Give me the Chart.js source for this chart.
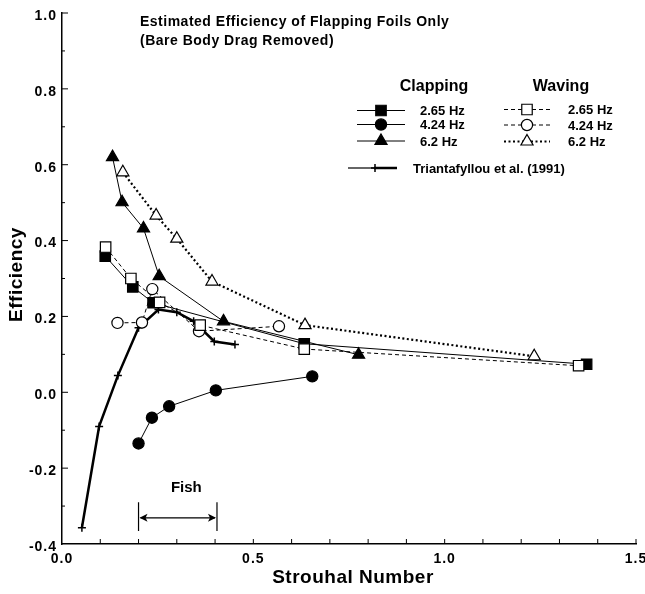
<!DOCTYPE html>
<html>
<head>
<meta charset="utf-8">
<title>Flapping foil efficiency</title>
<script src="https://cdn.jsdelivr.net/npm/chart.js@4.4.1/dist/chart.umd.min.js"></script>
<style>
    html, body { margin: 0; padding: 0; background: #fff; }
    #wrap { width: 645px; height: 594px; }
</style>
</head>
<body>
<div id="wrap"><canvas id="effChart" width="645" height="594"></canvas></div>
<script>
// Strouhal number (x) vs. efficiency (y) for each run
const clap265X = [0.113, 0.185, 0.238, 0.633, 1.371];
const clap265Y = [0.359, 0.278, 0.236, 0.128, 0.074];
const clap424X = [0.200, 0.235, 0.280, 0.402, 0.654];
const clap424Y = [-0.135, -0.067, -0.037, 0.005, 0.042];
const clap62X = [0.132, 0.157, 0.213, 0.254, 0.422, 0.775];
const clap62Y = [0.620, 0.501, 0.432, 0.306, 0.187, 0.099];

const wave265X = [0.114, 0.180, 0.255, 0.361, 0.633, 1.350];
const wave265Y = [0.383, 0.300, 0.237, 0.177, 0.114, 0.070];
const wave424X = [0.145, 0.209, 0.236, 0.358, 0.567];
const wave424Y = [0.183, 0.184, 0.272, 0.161, 0.174];
const wave62X = [0.159, 0.246, 0.300, 0.392, 0.635, 1.234];
const wave62Y = [0.580, 0.466, 0.405, 0.292, 0.177, 0.095];

const triantX = [0.052, 0.097, 0.146, 0.200, 0.252, 0.300, 0.344, 0.398, 0.452];
const triantY = [-0.357, -0.090, 0.044, 0.170, 0.218, 0.211, 0.187, 0.134, 0.126];

const xTickLabels = ['0.0', '0.5', '1.0', '1.5'];
const yTickLabels = ['-0.4', '-0.2', '0.0', '0.2', '0.4', '0.6', '0.8', '1.0'];

// fish range bar
const fishRange = [0.2, 0.405];

const FONT = '"Liberation Sans", Arial, Helvetica, sans-serif';

function pts(xs, ys) {
    return xs.map((x, i) => ({ x: x, y: ys[i] }));
}

// line + marker look for each series, shared by datasets and the legend
const looks = {
    clap265: { style: 'rect', r: 7.4, fill: true, dash: [], width: 1 },
    clap424: { style: 'circle', r: 5.6, fill: true, dash: [], width: 1 },
    clap62: { style: 'triangle', r: 7, fill: true, dash: [], width: 1 },
    wave265: { style: 'rect', r: 7.4, fill: false, dash: [4, 3], width: 1 },
    wave424: { style: 'circle', r: 5.6, fill: false, dash: [4, 3], width: 1 },
    wave62: { style: 'triangle', r: 7, fill: false, dash: [2, 2.5], width: 2.2 },
    triant: { style: 'cross', r: 4, fill: false, dash: [], width: 2.5 }
};

function makeSet(label, data, look) {
    return {
        label: label,
        data: data,
        showLine: true,
        borderColor: '#000',
        borderWidth: look.width,
        borderDash: look.dash,
        borderCapStyle: 'butt',
        pointStyle: look.style,
        pointRadius: look.r,
        pointHoverRadius: look.r,
        pointBackgroundColor: look.fill ? '#000' : '#fff',
        pointBorderColor: '#000',
        pointBorderWidth: look.style === 'cross' ? 1.5 : 1.2
    };
}

// draws a marker the same way Chart.js does for these point styles
function marker(ctx, look, x, y) {
    const r = look.r;
    ctx.save();
    ctx.setLineDash([]);
    ctx.lineWidth = look.style === 'cross' ? 1.5 : 1.2;
    ctx.strokeStyle = '#000';
    ctx.fillStyle = look.fill ? '#000' : '#fff';
    ctx.beginPath();
    if (look.style === 'rect') {
        const s = Math.SQRT1_2 * r;
        ctx.rect(x - s, y - s, 2 * s, 2 * s);
    } else if (look.style === 'circle') {
        ctx.arc(x, y, r, 0, Math.PI * 2);
    } else if (look.style === 'triangle') {
        let a = 0;
        ctx.moveTo(x + Math.sin(a) * r, y - Math.cos(a) * r);
        a += Math.PI * 2 / 3;
        ctx.lineTo(x + Math.sin(a) * r, y - Math.cos(a) * r);
        a += Math.PI * 2 / 3;
        ctx.lineTo(x + Math.sin(a) * r, y - Math.cos(a) * r);
        ctx.closePath();
    } else if (look.style === 'cross') {
        ctx.moveTo(x, y - r); ctx.lineTo(x, y + r);
        ctx.moveTo(x - r, y); ctx.lineTo(x + r, y);
        ctx.stroke();
        ctx.restore();
        return;
    }
    ctx.fill();
    ctx.stroke();
    ctx.restore();
}

function legendRow(ctx, look, x1, x2, y, text, tx) {
    ctx.save();
    ctx.lineWidth = look.width;
    ctx.setLineDash(look.dash);
    ctx.beginPath();
    ctx.moveTo(x1, y);
    ctx.lineTo(x2, y);
    ctx.stroke();
    ctx.restore();
    marker(ctx, look, (x1 + x2) / 2, y);
    ctx.font = 'bold 13px ' + FONT;
    ctx.textAlign = 'left';
    ctx.textBaseline = 'middle';
    ctx.fillText(text, tx, y + 1);
}

const decorPlugin = {
    id: 'decor',
    afterDraw(chart) {
        const ctx = chart.ctx;
        const area = chart.chartArea;
        const xs = chart.scales.x;
        const ys = chart.scales.y;
        ctx.save();
        ctx.strokeStyle = '#000';
        ctx.fillStyle = '#000';
        ctx.setLineDash([]);

        // inward ticks
        ctx.lineWidth = 1;
        ctx.beginPath();
        for (let i = 1; i <= 15; i++) {
            const px = xs.getPixelForValue(i / 10);
            ctx.moveTo(px, area.bottom);
            ctx.lineTo(px, area.bottom - 5);
        }
        for (let i = -3; i <= 10; i++) {
            const py = ys.getPixelForValue(i / 10);
            const len = i % 2 === 0 ? 6 : 3;
            ctx.moveTo(area.left, py);
            ctx.lineTo(area.left + len, py);
        }
        ctx.stroke();

        // tick labels
        ctx.font = 'bold 14px ' + FONT;
        ctx.letterSpacing = '1px';
        ctx.textAlign = 'center';
        ctx.textBaseline = 'middle';
        xTickLabels.forEach(t => {
            ctx.fillText(t, xs.getPixelForValue(parseFloat(t)), area.bottom + 15);
        });
        ctx.textAlign = 'right';
        yTickLabels.forEach(t => {
            ctx.fillText(t, area.left - 5, ys.getPixelForValue(parseFloat(t)) + 3);
        });
        ctx.letterSpacing = '0px';

        // axis titles
        ctx.font = 'bold 19px ' + FONT;
        ctx.letterSpacing = '0.5px';
        ctx.textAlign = 'center';
        ctx.fillText('Strouhal Number', (area.left + area.right) / 2 + 4, 578);
        ctx.save();
        ctx.translate(17, (area.top + area.bottom) / 2 - 4);
        ctx.rotate(-Math.PI / 2);
        ctx.fillText('Efficiency', 0, 0);
        ctx.restore();
        ctx.letterSpacing = '0px';

        // heading
        ctx.font = 'bold 14px ' + FONT;
        ctx.letterSpacing = '0.5px';
        ctx.textAlign = 'left';
        ctx.fillText('Estimated Efficiency of Flapping Foils Only', 140, 22);
        ctx.fillText('(Bare Body Drag Removed)', 140, 41);
        ctx.letterSpacing = '0px';

        // legend
        ctx.font = 'bold 16px ' + FONT;
        ctx.textAlign = 'center';
        ctx.fillText('Clapping', 434, 87);
        ctx.fillText('Waving', 561, 87);
        legendRow(ctx, looks.clap265, 357, 405, 110.5, '2.65 Hz', 420);
        legendRow(ctx, looks.clap424, 357, 405, 124.5, '4.24 Hz', 420);
        legendRow(ctx, looks.clap62, 357, 405, 141, '6.2 Hz', 420);
        legendRow(ctx, looks.wave265, 504, 550, 109.5, '2.65 Hz', 568);
        legendRow(ctx, looks.wave424, 504, 550, 125, '4.24 Hz', 568);
        legendRow(ctx, looks.wave62, 504, 550, 141.5, '6.2 Hz', 568);
        ctx.lineWidth = 1.2;
        ctx.beginPath();
        ctx.moveTo(348, 168); ctx.lineTo(374, 168);
        ctx.stroke();
        ctx.lineWidth = 2.5;
        ctx.beginPath();
        ctx.moveTo(374, 168); ctx.lineTo(397, 168);
        ctx.stroke();
        marker(ctx, looks.triant, 375, 168);
        ctx.font = 'bold 13px ' + FONT;
        ctx.textAlign = 'left';
        ctx.fillText('Triantafyllou et al. (1991)', 413, 169);

        // fish range
        const fx1 = xs.getPixelForValue(fishRange[0]);
        const fx2 = xs.getPixelForValue(fishRange[1]);
        const fyTop = ys.getPixelForValue(-0.29);
        const fyBot = ys.getPixelForValue(-0.366);
        const fyMid = ys.getPixelForValue(-0.331);
        ctx.lineWidth = 1.2;
        ctx.beginPath();
        ctx.moveTo(fx1, fyTop); ctx.lineTo(fx1, fyBot);
        ctx.moveTo(fx2, fyTop); ctx.lineTo(fx2, fyBot);
        ctx.moveTo(fx1 + 2, fyMid); ctx.lineTo(fx2 - 2, fyMid);
        ctx.stroke();
        ctx.beginPath();
        ctx.moveTo(fx1 + 1, fyMid); ctx.lineTo(fx1 + 9, fyMid - 4); ctx.lineTo(fx1 + 7, fyMid); ctx.lineTo(fx1 + 9, fyMid + 4);
        ctx.closePath();
        ctx.moveTo(fx2 - 1, fyMid); ctx.lineTo(fx2 - 9, fyMid - 4); ctx.lineTo(fx2 - 7, fyMid); ctx.lineTo(fx2 - 9, fyMid + 4);
        ctx.closePath();
        ctx.fill();
        ctx.font = 'bold 15px ' + FONT;
        ctx.textAlign = 'center';
        ctx.fillText('Fish', xs.getPixelForValue(0.325), ys.getPixelForValue(-0.251));

        ctx.restore();
    }
};

window.onload = function () {
    const ctx = document.getElementById('effChart').getContext('2d');
    new Chart(ctx, {
        type: 'scatter',
        data: {
            datasets: [
                makeSet('Waving 2.65 Hz', pts(wave265X, wave265Y), looks.wave265),
                makeSet('Waving 4.24 Hz', pts(wave424X, wave424Y), looks.wave424),
                makeSet('Waving 6.2 Hz', pts(wave62X, wave62Y), looks.wave62),
                makeSet('Clapping 2.65 Hz', pts(clap265X, clap265Y), looks.clap265),
                makeSet('Clapping 4.24 Hz', pts(clap424X, clap424Y), looks.clap424),
                makeSet('Clapping 6.2 Hz', pts(clap62X, clap62Y), looks.clap62),
                makeSet('Triantafyllou et al. (1991)', pts(triantX, triantY), looks.triant)
            ]
        },
        options: {
            responsive: false,
            animation: false,
            events: [],
            layout: { padding: { left: 0, top: 13, right: 9, bottom: 0 } },
            plugins: {
                legend: { display: false },
                tooltip: { enabled: false }
            },
            scales: {
                x: {
                    type: 'linear',
                    min: 0,
                    max: 1.5,
                    grid: { display: false },
                    border: { display: true, color: '#000', width: 1.5 },
                    ticks: { display: false },
                    afterFit: s => { s.height = 50; }
                },
                y: {
                    type: 'linear',
                    min: -0.4,
                    max: 1.0,
                    grid: { display: false },
                    border: { display: true, color: '#000', width: 1.5 },
                    ticks: { display: false },
                    afterFit: s => { s.width = 62; }
                }
            }
        },
        plugins: [decorPlugin]
    });
};
</script>
</body>
</html>
